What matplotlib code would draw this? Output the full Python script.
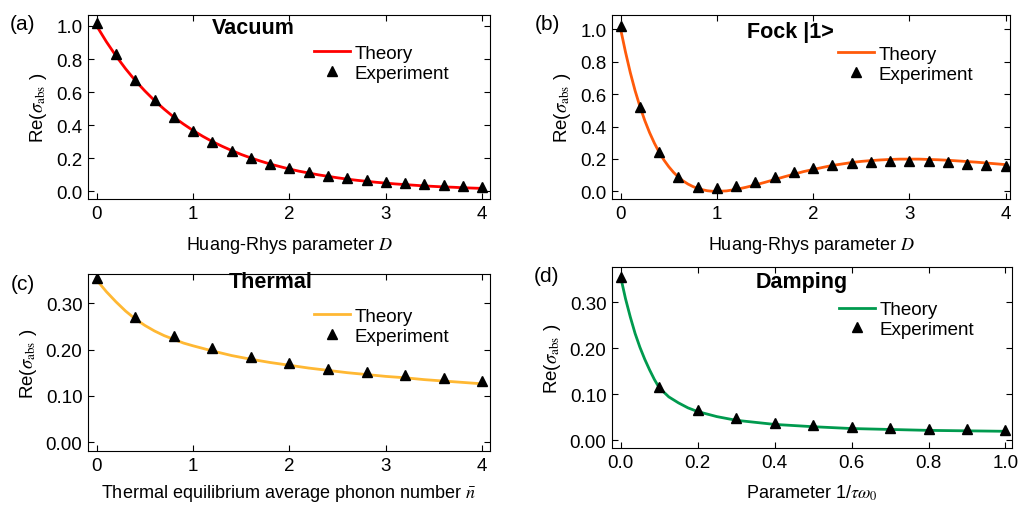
import matplotlib
matplotlib.use('Agg')
import matplotlib.pyplot as plt
from matplotlib.ticker import FormatStrFormatter

plt.rcParams['font.family'] = ['Liberation Sans', 'DejaVu Sans']
plt.rcParams['mathtext.fontset'] = 'stix'

# (a) vacuum
vac_x_th = [i / 10 for i in range(41)]
vac_y_th = [1.000, .905, .819, .741, .670, .607, .549, .497, .449, .407, .368,
            .333, .301, .273, .247, .223, .202, .183, .165, .150, .135,
            .122, .111, .100, .091, .082, .074, .067, .061, .055, .050,
            .045, .041, .037, .033, .030, .027, .025, .022, .020, .018]
vac_x_ex = [i / 5 for i in range(21)]
vac_y_ex = [1.02, .83, .675, .55, .45, .365, .30, .245, .20, .165, .14,
            .115, .095, .08, .068, .058, .05, .043, .037, .032, .027]

# (b) Fock |1>
fock_x_th = [i / 20 for i in range(21)] + [1.1 + i / 10 for i in range(30)]
fock_y_th = [1.000, .860, .733, .621, .524, .438, .363, .298, .241, .193,
             .152, .117, .088, .064, .045, .030, .018, .010, .004, .001, .000,
             .003, .012, .025, .040, .056, .073, .090, .106, .122, .135,
             .148, .160, .169, .178, .185, .190, .194, .197, .199, .199,
             .199, .197, .195, .192, .188, .184, .180, .175, .170, .165]
fock_x_ex = [i / 5 for i in range(21)]
fock_y_ex = [1.02, .52, .24, .09, .03, .02, .035, .06, .09, .12, .145,
             .16, .175, .18, .185, .185, .185, .18, .17, .16, .155]

# (c) thermal
th_x_th = [i / 10 for i in range(11)] + [1.2 + i / 5 for i in range(15)]
th_y_th = [.350, .325, .303, .283, .266, .252, .240, .230, .222, .214, .208,
           .197, .187, .179, .172, .166, .160, .155, .150, .146, .142,
           .139, .135, .132, .129, .126]
th_x_ex = [0, 0.4, 0.8, 1.2, 1.6, 2.0, 2.4, 2.8, 3.2, 3.6, 4.0]
th_y_ex = [.355, .27, .23, .203, .184, .171, .159, .151, .144, .139, .133]

# (d) damping
dm_x_th = [0, .0125, .025, .0375, .05, .0625, .075, .0875, .1, .125, .15, .175,
           .2, .25, .3, .4, .5, .6, .7, .8, .9, 1.0]
dm_y_th = [.355, .308, .268, .232, .202, .176, .153, .132, .114, .094, .081, .070,
           .062, .051, .043, .034, .029, .025, .023, .021, .020, .019]
dm_x_ex = [i / 10 for i in range(11)]
dm_y_ex = [.355, .115, .066, .048, .038, .033, .028, .026, .024, .023, .022]

W, H = 1020, 506
fig = plt.figure(figsize=(W / 100, H / 100), dpi=100)


def make_ax(l, r, t, b):
    return fig.add_axes([l / W, 1 - b / H, (r - l) / W, (b - t) / H])


panels = [
    dict(box=(88, 490, 16, 200), xt=vac_x_th, yt=vac_y_th, xe=vac_x_ex, ye=vac_y_ex,
         color='#ff0000', title='Vacuum', tpos=(0.41, 0.93), lab='(a)',
         xlim=(-0.09, 4.08), ylim=(-0.046, 1.066), xticks=[0, 1, 2, 3, 4],
         yticks=[0, .2, .4, .6, .8, 1.0], fmt='%.1f', lpad=9,
         xlabel=r'Huang-Rhys parameter $\it{D}$', leg=(0.53, 0.91)),
    dict(box=(612, 1010, 16, 200), xt=fock_x_th, yt=fock_y_th, xe=fock_x_ex, ye=fock_y_ex,
         color='#ff5a0a', title='Fock |1>', tpos=(0.447, 0.91), lab='(b)',
         xlim=(-0.09, 4.045), ylim=(-0.047, 1.088), xticks=[0, 1, 2, 3, 4],
         yticks=[0, .2, .4, .6, .8, 1.0], fmt='%.1f', lpad=9,
         xlabel=r'Huang-Rhys parameter $\it{D}$', leg=(0.535, 0.905)),
    dict(box=(88, 490, 275, 452), xt=th_x_th, yt=th_y_th, xe=th_x_ex, ye=th_y_ex,
         color='#ffb833', title='Thermal', tpos=(0.455, 0.955), lab='(c)',
         xlim=(-0.09, 4.08), ylim=(-0.019, 0.363), xticks=[0, 1, 2, 3, 4],
         yticks=[0, .1, .2, .3], fmt='%.2f', lpad=6,
         xlabel=r'Thermal equilibrium average phonon number $\bar{n}$', leg=(0.53, 0.885)),
    dict(box=(612, 1012, 268, 449), xt=dm_x_th, yt=dm_y_th, xe=dm_x_ex, ye=dm_y_ex,
         color='#009a4e', title='Damping', tpos=(0.475, 0.92), lab='(d)',
         xlim=(-0.0226, 1.017), ylim=(-0.0174, 0.377), xticks=[0, .2, .4, .6, .8, 1.0],
         yticks=[0, .1, .2, .3], fmt='%.2f', lpad=9,
         xlabel=r'Parameter 1/$\tau\omega_0$', leg=(0.535, 0.885)),
]

for p in panels:
    ax = make_ax(*p['box'])
    ax.plot(p['xt'], p['yt'], color=p['color'], lw=2, label='Theory', zorder=2)
    ax.plot(p['xe'], p['ye'], '^', color='black', ms=7.5, label='Experiment', zorder=3)
    ax.set_xlim(*p['xlim'])
    ax.set_ylim(*p['ylim'])
    ax.set_xticks(p['xticks'])
    ax.set_yticks(p['yticks'])
    if p['lab'] == '(d)':
        ax.xaxis.set_major_formatter(FormatStrFormatter('%.1f'))
    ax.yaxis.set_major_formatter(FormatStrFormatter(p['fmt']))
    ax.tick_params(direction='in', top=True, right=True, length=4, width=0.8,
                   labelsize=13.5, pad=4)
    ax.set_ylabel(r'Re($\sigma_{\rm abs}$ )', fontsize=13.5, labelpad=5)
    ax.set_xlabel(p['xlabel'], fontsize=13, labelpad=p['lpad'])
    ax.text(*p['tpos'], p['title'], transform=ax.transAxes, ha='center', va='center',
            fontsize=15.5, fontweight='bold')
    ax.legend(loc='upper left', bbox_to_anchor=p['leg'], frameon=False, fontsize=13.5,
              handlelength=1.9, handletextpad=0.25, labelspacing=0.15, borderpad=0.2)
    x0, x1, y0, y1 = p['box']
    fig.text((x0 - 65) / W, 1 - (y0 + 9) / H, p['lab'], fontsize=15,
             ha='center', va='center')

fig.savefig('out.png', dpi=100)
